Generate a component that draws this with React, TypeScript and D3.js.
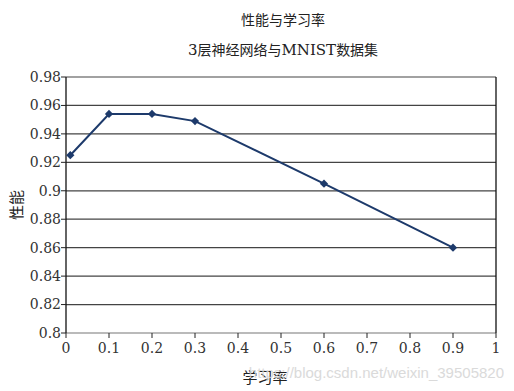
import React from "react";
import * as d3 from "d3";

const rates = [0.01, 0.1, 0.2, 0.3, 0.6, 0.9];
const performance = [0.925, 0.954, 0.954, 0.949, 0.905, 0.86];
const xTicks = [0, 0.1, 0.2, 0.3, 0.4, 0.5, 0.6, 0.7, 0.8, 0.9, 1];
const yTicks = [0.8, 0.82, 0.84, 0.86, 0.88, 0.9, 0.92, 0.94, 0.96, 0.98];

const width = 514;
const height = 391;
const marginLeft = 66;
const marginRight = 18;
const marginTop = 77;
const marginBottom = 58;

const serif = { fontFamily: "'DejaVu Serif', 'Liberation Serif', serif" };
const cjk = { fontFamily: "'Noto Sans CJK SC', sans-serif" };

export default function App() {
  const x = d3.scaleLinear().domain([0, 1]).range([marginLeft, width - marginRight]);
  const y = d3.scaleLinear().domain([0.8, 0.98]).range([height - marginBottom, marginTop]);

  const data = rates.map((r, i) => ({ r, v: performance[i] }));
  const line = d3
    .line<{ r: number; v: number }>()
    .x(d => x(d.r))
    .y(d => y(d.v));
  // rotated square looks like the excel diamond
  const marker = d3.symbol().type(d3.symbolSquare).size(34)();

  const x0 = x(0);
  const x1 = x(1);
  const yb = y(0.8);
  const yt = y(0.98);

  return (
    <svg
      width={width}
      height={height}
      style={{ position: "absolute", left: 0, top: 0, background: "#fff" }}
    >
      <text x={283} y={25} textAnchor="middle" style={cjk} fontSize={14} fill="#222">
        性能与学习率
      </text>
      <text x={283} y={55} textAnchor="middle" style={serif} fontSize={15} fill="#222">
        <tspan>3</tspan>
        <tspan style={cjk} fontSize={14}>层神经网络与</tspan>
        <tspan>MNIST</tspan>
        <tspan style={cjk} fontSize={14}>数据集</tspan>
      </text>

      {/* grid */}
      {yTicks.map(t => (
        <line
          key={"g" + t}
          x1={x0}
          x2={x1}
          y1={y(t)}
          y2={y(t)}
          stroke={t === 0.8 ? "#777" : "#444"}
          strokeWidth={1.2}
        />
      ))}
      <line x1={x0} x2={x0} y1={yt} y2={yb} stroke="#111" strokeWidth={1.3} />
      <line x1={x1} x2={x1} y1={yt} y2={yb} stroke="#111" strokeWidth={1.3} />

      {/* y axis */}
      {yTicks.map(t => (
        <g key={"y" + t}>
          <line x1={x0 - 5} x2={x0} y1={y(t)} y2={y(t)} stroke="#222" />
          <text
            x={x0 - 5}
            y={y(t)}
            dy="0.35em"
            textAnchor="end"
            style={serif}
            fontSize={14}
            fill="#333"
          >
            {d3.format("")(t)}
          </text>
        </g>
      ))}

      {/* x axis */}
      {xTicks.map(t => (
        <g key={"x" + t}>
          <line x1={x(t)} x2={x(t)} y1={yb} y2={yb + 5} stroke="#222" />
          <text
            x={x(t)}
            y={yb + 20}
            textAnchor="middle"
            style={serif}
            fontSize={14}
            fill="#333"
          >
            {d3.format("")(t)}
          </text>
        </g>
      ))}

      <path d={line(data) || ""} fill="none" stroke="#1d3a6b" strokeWidth={2} />
      {data.map(d => (
        <path
          key={d.r}
          d={marker || ""}
          transform={`translate(${x(d.r)},${y(d.v)}) rotate(45)`}
          fill="#1d3a6b"
        />
      ))}

      <text
        transform={`translate(22,${(yt + yb) / 2}) rotate(-90)`}
        textAnchor="middle"
        style={cjk}
        fontSize={15}
        fill="#222"
      >
        性能
      </text>
      <text x={265} y={383} textAnchor="middle" style={cjk} fontSize={15} fill="#222">
        学习率
      </text>

      <text
        x={504}
        y={378}
        textAnchor="end"
        style={{ fontFamily: "'Liberation Sans', Arial, sans-serif" }}
        fontSize={15}
        fill="#d4d4d4"
        opacity={0.85}
      >
        https://blog.csdn.net/weixin_39505820
      </text>
    </svg>
  );
}
